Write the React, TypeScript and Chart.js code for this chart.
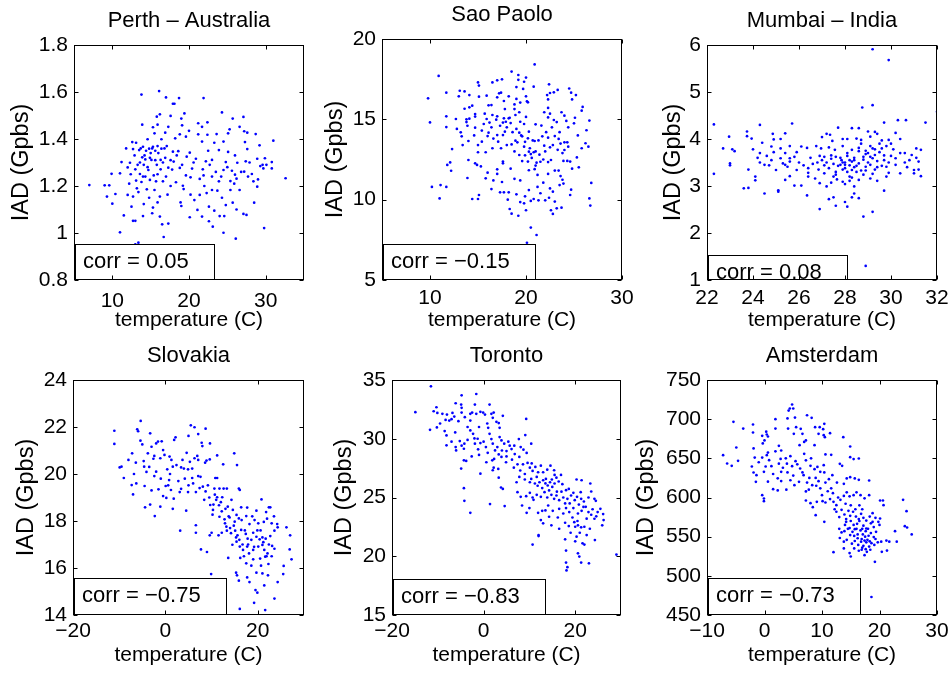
import React, { useEffect, useRef } from "react";
import { Chart, registerables } from "chart.js";

Chart.register(...registerables);

const FONT = "'Liberation Sans', Arial, Helvetica, sans-serif";

// ---------- data: [temperature (C), IAD (Gpbs)] ----------
const perthData: [number, number][] = [
  [16.1,1.604],[13.8,1.589],[17.0,1.577],[18.7,1.574],[17.9,1.55],[18.1,1.55],[21.9,1.574],
  [16.2,1.505],[24.3,1.513],[17.6,1.498],[19.4,1.509],[15.8,1.495],[25.7,1.487],[27.1,1.494],[19.0,1.487],
  [13.9,1.461],[21.2,1.467],[22.4,1.471],[25.3,1.441],[15.3,1.45],[17.3,1.452],[15.9,1.461],[19.1,1.458],[21.7,1.452],[26.6,1.452],[27.2,1.433],[28.7,1.421],[23.6,1.421],[25.1,1.424],[27.6,1.427],[22.4,1.418],[21.2,1.42],[15.5,1.424],[16.9,1.427],[18.8,1.42],[20.0,1.435],
  [31.0,1.393],[12.6,1.387],[13.1,1.384],[14.6,1.399],[16.4,1.399],[18.2,1.403],[19.6,1.41],[21.7,1.389],[23.3,1.384],[24.5,1.389],[27.3,1.387],[29.2,1.373],
  [12.7,1.357],[13.5,1.353],[14.0,1.367],[14.8,1.359],[15.3,1.367],[15.9,1.37],[16.4,1.359],[17.9,1.346],[18.6,1.348],[20.1,1.342],[22.5,1.35],[23.9,1.353],[25.1,1.345],[27.6,1.357],[26.0,1.33],
  [13.9,1.322],[14.3,1.313],[15.1,1.311],[16.3,1.311],[18.0,1.304],[19.7,1.325],[20.9,1.316],[22.2,1.305],[23.0,1.311],[24.8,1.302],[26.3,1.299],[27.4,1.305],[28.9,1.316],[29.9,1.318],[30.8,1.302],[11.2,1.302],[12.3,1.299],
  [12.0,1.279],[13.0,1.271],[14.7,1.268],[16.3,1.271],[17.3,1.278],[18.8,1.277],[20.4,1.274],[21.8,1.271],[24.5,1.268],[25.6,1.265],[27.2,1.261],[29.3,1.285],[29.7,1.275],[30.8,1.275],[11.0,1.254],[9.9,1.252],
  [13.6,1.251],[14.3,1.24],[15.4,1.245],[17.0,1.24],[19.6,1.245],[20.2,1.237],[21.9,1.245],[23.0,1.24],[26.0,1.248],[28.2,1.251],[29.0,1.228],[26.2,1.231],[27.7,1.24],
  [7.0,1.204],[9.0,1.203],[9.6,1.203],[13.1,1.223],[13.8,1.217],[14.9,1.226],[18.3,1.216],[19.2,1.201],[22.0,1.2],[23.9,1.22],[25.4,1.221],[32.6,1.233],[28.9,1.197],[25.4,1.183],
  [9.3,1.155],[10.4,1.166],[12.0,1.162],[13.4,1.174],[14.5,1.186],[15.5,1.183],[16.2,1.155],[17.2,1.163],[19.3,1.187],[20.2,1.163],[21.4,1.162],[23.0,1.183],[23.7,1.18],[26.6,1.183],[28.5,1.129],[12.7,1.155],
  [10.0,1.125],[12.5,1.112],[14.1,1.123],[15.3,1.108],[19.0,1.115],[21.1,1.098],[22.6,1.112],[23.3,1.095],[24.8,1.119],[25.7,1.129],
  [11.5,1.075],[14.0,1.072],[15.2,1.084],[16.2,1.07],[20.1,1.067],[21.7,1.07],[22.6,1.05],[24.0,1.072],[24.6,1.072],[27.1,1.081],[27.5,1.077],
  [12.7,1.052],[13.0,1.052],[16.5,1.037],[17.3,1.04],[23.1,1.027],[24.5,1.001],[29.8,1.021],[11.0,1.003],[16.7,0.983],[26.1,0.976],[13.0,0.952],[13.4,0.959],
  [14.2,1.33],[15.0,1.34],[15.6,1.35],[16.8,1.36],[13.6,1.30],[14.6,1.28],[15.8,1.29],[16.9,1.32],[14.0,1.24],[15.7,1.22],[17.6,1.31],
  [12.9,1.33],[13.3,1.29],[14.4,1.35],[14.9,1.32],[15.2,1.36],[15.6,1.31],[16.0,1.34],[16.6,1.30],[17.1,1.37],[13.7,1.36],[14.1,1.29],[15.9,1.25],[16.6,1.22],[17.8,1.27],[18.4,1.33],[19.1,1.29],[20.6,1.30],[21.4,1.23],[22.7,1.29],[23.5,1.26],[24.2,1.24],[25.0,1.28],[25.9,1.21],[26.8,1.26],[27.9,1.30],[28.4,1.22],[29.6,1.29],[30.1,1.29],[12.2,1.21],[13.2,1.19],[14.8,1.15],[15.9,1.13],[17.6,1.20],[18.9,1.13],[20.7,1.14],[22.3,1.17],[24.3,1.15],[26.2,1.10],[11.8,1.36],[12.4,1.25]
];

const saoPaoloData: [number, number][] = [
  [20.9,18.42],[10.9,17.7],[18.5,17.97],[19.2,17.76],[20.0,17.6],[9.8,16.31],[16.5,17.3],[17.0,17.43],[17.5,17.49],[15.0,17.3],[15.1,17.1],[19.2,17.46],[19.8,17.34],[22.4,17.18],[19.0,17.01],[19.7,16.89],[20.8,17.03],[24.5,16.92],[24.7,16.66],[23.3,16.83],[22.9,16.68],[22.2,16.51],[22.5,16.64],[25.2,16.51],[24.8,16.24],
  [11.7,16.66],[13.1,16.78],[13.6,16.74],[13.0,16.43],[14.1,16.51],[15.1,16.41],[15.9,16.47],[17.2,16.62],[17.4,16.66],[17.0,16.37],[18.2,16.43],[20.0,16.43],[20.1,16.12],[19.0,16.27],[17.7,16.14],[16.1,15.87],[16.4,15.89],[14.4,15.85],[14.1,15.75],[13.6,15.66],[18.8,15.93],[19.4,16.04],[20.2,16.06],[22.3,16.24],[22.3,15.71],[25.9,15.77],[25.8,15.54],
  [10.0,14.81],[11.7,15.19],[11.7,14.52],[12.7,15.02],[13.8,15.0],[13.8,14.83],[14.1,15.04],[14.7,15.33],[14.7,15.17],[15.7,15.35],[15.6,14.71],[15.9,15.02],[16.5,15.27],[17.0,15.19],[16.9,14.98],[16.4,14.5],[17.8,15.64],[17.7,15.06],[18.2,15.06],[17.9,14.85],[18.4,14.77],[18.8,15.64],[18.9,15.27],[19.3,15.44],[19.4,14.85],[20.0,15.15],[19.8,14.71],[21.0,14.69],[21.6,14.61],[21.9,15.44],[22.3,15.12],[22.5,15.35],[22.9,14.96],[23.2,14.83],[23.7,15.44],[24.0,15.23],[24.2,14.9],[25.1,15.1],[25.0,14.75],[26.6,14.92],[26.3,14.32],
  [13.2,14.19],[13.3,13.94],[13.4,13.4],[14.0,13.65],[14.7,14.48],[15.0,13.4],[15.0,12.95],[15.4,13.61],[16.0,13.96],[16.1,14.17],[15.8,12.95],[16.5,13.2],[17.1,13.61],[17.0,14.02],[17.6,14.02],[17.8,14.23],[18.0,13.4],[18.5,13.44],[18.9,13.67],[19.1,13.57],[19.3,14.17],[19.6,13.94],[19.8,13.3],[20.2,13.82],[20.3,14.23],[20.3,12.99],[20.7,13.69],[20.9,13.65],[21.3,13.69],[21.7,13.94],[21.9,13.36],[22.3,13.86],[22.5,13.26],[23.0,13.96],[23.4,13.78],[23.6,13.49],[24.0,13.57],[24.3,13.57],[24.0,13.09],[24.6,12.37],[24.8,11.93],[25.5,12.01],[26.2,13.51],[26.5,13.3],[25.8,13.2],[25.3,12.63],
  [11.8,12.16],[12.1,12.32],[12.2,11.8],[12.3,13.15],[14.0,12.47],[14.7,12.26],[14.9,12.16],[15.3,12.07],[16.0,11.68],[17.0,11.89],[17.0,11.6],[17.6,12.37],[17.6,12.26],[18.4,11.93],[19.3,12.78],[19.9,12.76],[20.2,12.37],[20.5,12.84],[20.8,12.95],[21.0,12.12],[20.3,11.83],[21.2,11.54],[21.5,12.36],[22.3,12.34],[22.3,11.6],[22.6,12.47],[23.0,11.81],[23.4,11.81],[23.6,11.47],[23.9,12.41],[24.3,12.41],
  [10.2,10.79],[11.1,10.91],[11.7,10.79],[11.0,10.08],[13.9,11.35],[14.4,10.04],[15.0,10.04],[15.1,10.29],[15.8,11.33],[16.4,10.66],[16.6,11.2],[17.3,10.46],[17.7,10.46],[18.2,10.46],[18.1,10.0],[19.0,10.33],[19.4,11.2],[19.9,10.21],[19.8,9.77],[19.4,9.85],[18.3,9.42],[18.5,9.13],[19.2,9.0],[20.0,9.34],[20.5,9.92],[20.8,10.04],[21.3,9.96],[21.2,10.79],[21.8,11.06],[22.0,9.96],[22.4,10.12],[22.8,10.5],[23.0,9.88],[23.2,9.46],[22.6,9.34],[22.8,9.11],[23.7,9.5],[23.5,10.91],[23.8,11.24],[24.7,10.62],[24.6,10.29],[26.6,10.08],[26.8,11.04],[26.7,9.63],[20.5,8.26],[21.1,7.8],[20.1,7.32],
  [17.3,14.6],[17.6,14.8],[18.0,14.5],[18.3,15.1],[18.6,14.2],[19.0,14.4],[19.5,14.0],[19.9,13.6],[20.4,13.2],[20.6,12.6],[21.0,13.0],[21.4,12.8],[21.8,12.5],[22.0,13.0],[22.8,13.4],[23.3,13.1],[23.8,12.9],[24.4,13.3],[21.1,12.3],[20.9,11.9],[19.6,12.4],[18.8,13.0],[17.4,13.2],[16.6,13.8],[16.2,14.8],[15.4,14.3],[14.6,14.0],[13.9,14.6],[12.8,14.4],[22.1,14.2],[22.7,14.5],[23.5,14.2],[24.4,14.5],[25.4,14.0],[23.9,11.0],[22.5,10.7],[21.5,10.4],[20.3,10.6],[18.8,11.3],[17.5,11.1]
];

const mumbaiData: [number, number][] = [
  [29.2,5.91],[29.9,5.68],[28.75,4.67],[29.2,4.72],[22.3,4.31],[24.3,4.3],[25.7,4.33],[29.7,4.35],[30.3,4.4],[30.65,4.4],[31.5,4.35],[32.0,4.58],
  [22.96,4.05],[23.74,4.16],[23.74,4.06],[23.94,4.01],[24.86,4.11],[25.4,4.12],[24.9,3.99],[25.2,4.0],[27.7,4.24],[28.3,4.23],[28.6,4.23],[29.0,4.16],[29.1,4.05],[29.3,4.15],[29.4,4.11],[29.6,3.97],[29.9,3.98],[30.2,4.13],[30.4,4.0],[27.2,4.11],[27.35,4.09],[27.0,4.04],[27.45,3.96],[27.9,4.0],[28.1,4.0],[28.5,4.01],[28.7,3.98],
  [22.7,3.8],[23.1,3.78],[23.2,3.74],[24.0,3.78],[24.4,3.92],[24.8,3.84],[25.2,3.8],[25.6,3.85],[25.4,3.7],[26.1,3.84],[26.35,3.81],[26.75,3.85],[26.96,3.8],[27.3,3.82],[27.56,3.77],[27.9,3.85],[28.3,3.77],[28.6,3.81],[28.9,3.75],[29.1,3.85],[29.3,3.78],[29.6,3.8],[29.8,3.85],[30.1,3.78],[30.4,3.7],[30.6,3.7],[30.9,3.66],[31.1,3.8],[31.3,3.77],
  [24.3,3.7],[24.6,3.64],[24.9,3.72],[25.2,3.59],[25.6,3.59],[25.8,3.62],[25.9,3.72],[26.9,3.64],[27.1,3.62],[27.4,3.58],[27.6,3.62],[27.85,3.55],[28.1,3.64],[28.4,3.55],[28.6,3.74],[28.8,3.62],[29.1,3.62],[29.2,3.59],[29.4,3.53],[29.7,3.55],[30.0,3.64],[30.2,3.59],[30.8,3.55],[31.2,3.52],[30.6,3.5],
  [23.0,3.48],[23.0,3.44],[23.8,3.35],[24.3,3.5],[24.5,3.45],[24.7,3.44],[25.0,3.34],[25.3,3.48],[25.5,3.41],[25.6,3.52],[25.9,3.34],[26.2,3.44],[26.4,3.38],[26.6,3.47],[26.85,3.35],[27.1,3.44],[27.3,3.38],[27.5,3.47],[27.7,3.43],[27.9,3.5],[28.0,3.38],[28.2,3.44],[28.3,3.34],[28.5,3.43],[28.7,3.33],[28.9,3.41],[29.1,3.45],[29.4,3.4],[29.6,3.43],[29.8,3.41],[29.9,3.28],[30.4,3.27],[31.0,3.34],[31.2,3.35],[31.3,3.21],[31.0,3.27],
  [22.3,3.26],[23.6,2.95],[23.8,2.96],[24.1,3.2],[24.1,3.12],[24.5,2.84],[25.1,2.91],[25.1,2.88],[25.4,3.13],[25.6,3.21],[25.8,3.01],[26.1,3.01],[26.4,3.2],[26.4,3.28],[26.7,3.16],[26.9,3.06],[27.1,3.27],[27.2,2.99],[27.4,3.07],[27.6,3.24],[27.65,3.14],[27.9,3.09],[28.0,3.04],[28.2,3.11],[28.3,3.18],[28.4,2.99],[28.6,3.13],[28.8,3.24],[28.9,3.33],[29.1,3.16],[29.2,3.26],[29.4,3.11],[29.8,3.2],[26.35,2.8],[26.9,2.51],[27.3,2.72],[27.5,2.76],[27.6,2.58],[28.0,2.66],[28.1,2.56],[28.3,2.76],[28.4,2.84],[28.6,2.74],[28.8,2.35],[29.2,2.45],[29.7,2.9],[28.9,1.3],
  [28.0,3.5],[28.2,3.55],[27.8,3.45],[28.4,3.6],[29.0,3.7],[28.1,3.3],
  [27.0,3.55],[27.2,3.5],[27.4,3.65],[27.6,3.3],[27.8,3.6],[28.0,3.45],[28.1,3.7],[28.3,3.52],[28.5,3.3],[28.6,3.48],[28.8,3.56],[28.9,3.68],[29.0,3.5],[29.2,3.8],[29.3,3.66],[29.5,3.72],[29.7,3.65],[29.9,3.5],[30.0,3.9],[30.2,3.45],[29.5,3.9],[28.7,3.9],[28.2,3.2],[27.5,3.2],[26.8,3.5],[26.5,3.6],[26.0,3.5],[25.4,3.45],[24.8,3.55],[24.2,3.6],[28.4,3.4],[27.9,3.35],[29.3,3.35],[30.7,3.4],[31.1,3.6]
];

const slovakiaData: [number, number][] = [
  [-5.35,22.26],[-11.05,21.84],[-11.05,21.28],[-6.1,21.9],[-5.9,21.82],[-3.3,21.73],[5.5,22.07],[6.3,21.99],[8.7,21.93],[7.1,21.7],[-5.4,21.42],[-5.0,21.26],[-3.0,21.16],[-2.0,21.3],[-1.6,21.38],[-0.8,21.39],[2.2,21.56],[1.9,21.45],[5.0,21.62],[7.85,21.33],[8.0,21.19],[9.65,21.3],[-9.9,20.28],[-9.5,20.31],[-9.0,19.83],[-7.2,20.88],[-6.4,20.48],[-4.7,20.55],[-4.6,20.31],[-4.1,20.09],[-3.8,20.88],[-2.6,20.65],[-2.4,20.77],[-1.1,20.67],[-0.5,21.02],[-0.2,20.81],[0.9,20.74],[1.3,20.6],[1.6,20.31],[2.4,20.38],[3.4,20.28],[4.0,20.23],[4.9,20.2],[5.8,20.23],[5.3,20.52],[6.3,20.67],[6.9,20.77],[7.1,20.6],[8.6,20.48],[8.9,20.57],[9.6,20.62],[11.2,20.79],[12.5,20.41],[14.9,20.88],[15.5,20.38],
  [-7.3,19.53],[-7.0,19.13],[-6.3,19.6],[-4.5,19.49],[-4.4,18.58],[-3.3,18.7],[-2.4,19.91],[-1.5,19.35],[0.06,19.49],[0.6,19.52],[0.8,19.74],[1.2,19.32],[-1.1,18.61],[-0.5,19.06],[0.2,18.98],[1.8,18.95],[1.6,18.52],[3.1,19.23],[3.4,19.37],[4.2,19.8],[5.0,19.52],[4.9,19.23],[5.8,19.83],[6.6,19.23],[7.1,19.91],[7.6,19.88],[8.1,19.46],[8.7,19.26],[9.2,19.52],[8.4,18.9],[10.8,19.83],[11.2,19.83],[10.6,19.38],[11.7,19.38],[12.6,19.38],[13.3,19.38],[10.7,19.12],[11.2,19.01],[12.3,19.01],[14.3,18.9],[15.9,19.38],[16.1,19.32],[-2.3,18.21],[4.5,18.44],
  [9.7,18.68],[10.3,18.47],[10.2,18.27],[11.6,18.67],[12.2,18.41],[13.0,18.52],[13.5,18.61],[14.6,18.47],[15.4,18.26],[16.4,18.58],[17.7,18.57],[19.7,18.44],[20.8,18.92],[22.4,18.58],[22.7,18.58],[21.8,18.38],[11.7,18.18],[12.8,18.07],[13.9,18.15],[15.0,17.97],[15.9,18.11],[16.5,18.04],[17.5,18.21],[18.2,17.87],[19.3,18.04],[20.1,17.9],[21.3,17.96],[23.0,17.9],[24.2,17.87],[26.2,17.73],[3.2,17.59],[6.6,17.82],[6.6,17.5],[9.6,17.39],[10.0,17.5],[11.5,17.39],[12.2,17.5],[13.2,17.76],[13.3,17.59],[14.2,17.48],[15.1,17.59],[15.6,17.39],[16.4,17.62],[17.4,17.45],[17.8,17.25],[19.0,17.5],[19.7,17.33],[20.4,17.22],[21.0,17.3],[21.7,17.25],[22.7,17.36],[23.6,17.59],[24.3,17.73],[27.0,17.39],
  [7.7,16.79],[9.0,16.68],[13.6,16.43],[14.5,16.99],[15.4,17.12],[16.1,16.91],[16.8,16.77],[17.7,16.91],[18.1,16.62],[19.0,16.77],[20.1,16.91],[21.0,16.98],[21.4,16.77],[22.1,16.62],[23.1,16.94],[23.6,16.82],[16.2,16.43],[17.5,16.2],[19.0,16.37],[20.5,16.4],[21.6,16.48],[22.3,16.17],[26.9,16.79],[27.3,16.37],[25.6,16.09],[15.3,15.8],[15.5,15.69],[17.7,15.6],[19.7,15.8],[21.0,15.77],[22.2,15.69],[25.5,15.74],[24.3,15.4],[9.9,15.74],[15.9,15.46],[18.2,15.4],[19.5,15.06],[19.9,14.95],[21.4,15.26],[23.6,14.7],[19.2,14.52],[16.1,14.26],[21.6,14.21],
  [-3.5,20.3],[-2.0,20.1],[-1.0,19.8],[0.4,20.2],[1.0,20.0],[2.8,19.7],[3.7,20.6],[4.6,20.9],[6.0,19.6],[7.4,19.4],[9.5,19.0],[10.4,18.7],[11.0,18.9],[12.0,18.8],[12.9,17.9],[13.7,18.2],[14.0,17.7],[14.8,17.8],[15.3,17.3],[16.0,17.2],[16.7,17.0],[17.2,17.6],[17.9,17.0],[18.6,17.2],[19.2,16.9],[19.9,17.6],[20.6,17.6],[21.2,17.1],[21.9,16.5],[22.4,17.0],[23.0,16.5],[20.7,16.1],[18.6,16.1],[17.0,16.5],[22.0,18.1],[23.5,18.2],[18.8,18.2],[-6.8,20.0],[-8.0,20.6],[-3.0,19.3]
];

const torontoData: [number, number][] = [
  [-11.5,34.46],[-14.9,32.26],[-11.7,30.76],[-10.9,32.34],[-10.3,32.68],[-10.1,32.2],[-10.2,30.96],[-9.0,32.12],[-8.3,31.6],[-8.0,32.06],[-7.5,31.55],[-7.0,31.67],[-6.4,31.89],[-6.1,33.02],[-4.8,33.7],[-4.9,32.91],[-4.8,32.63],[-4.8,32.23],[-4.1,31.84],[-2.9,32.12],[-2.5,32.23],[-2.9,31.55],[-1.9,32.91],[-1.6,33.81],[-1.6,32.12],[-0.7,32.29],[-0.1,32.23],[0.3,32.06],[1.3,32.91],[1.7,32.12],[2.2,32.23],[2.0,31.78],[2.8,31.44],[3.3,31.33],[3.5,30.93],[4.2,31.95],[9.3,31.69],
  [-8.5,30.65],[-8.1,30.28],[-8.1,29.44],[-7.0,29.75],[-6.2,30.54],[-6.1,29.29],[-6.0,29.01],[-5.2,29.8],[-4.8,29.41],[-4.3,29.15],[-4.2,29.58],[-2.9,30.71],[-2.3,30.42],[-2.0,30.03],[-1.9,29.58],[-1.3,30.0],[-0.7,29.63],[0.0,29.75],[0.5,29.29],[1.0,30.93],[1.3,30.42],[1.7,29.97],[2.0,29.58],[2.5,29.01],[3.0,29.29],[3.5,30.14],[3.9,29.86],[4.5,29.58],[5.0,28.95],[5.4,29.75],[5.7,29.41],[6.1,29.12],[6.7,29.41],[7.7,29.97],[8.1,29.29],[8.7,29.07],[9.4,28.79],[9.1,30.31],[10.4,29.58],
  [-4.3,28.16],[-4.9,27.46],[-3.8,28.11],[-2.6,28.5],[-1.0,28.62],[-0.7,27.03],[0.6,28.0],[1.9,28.16],[2.3,28.28],[3.3,28.67],[3.9,28.45],[4.9,28.0],[6.2,28.22],[6.6,27.54],[7.4,27.82],[7.8,28.45],[8.6,27.82],[9.6,27.94],[10.1,27.54],[10.7,27.26],[11.3,27.6],[11.9,27.15],[12.5,27.71],[13.0,27.15],[13.9,27.37],[14.6,27.71],[15.4,27.32],[15.5,26.92],[2.0,27.32],[2.2,27.54],[3.2,27.43],[3.3,26.69],
  [7.2,26.3],[7.8,26.75],[9.0,26.53],[10.1,26.3],[10.4,26.58],[11.2,26.19],[11.6,26.75],[12.2,26.3],[13.0,26.47],[13.6,26.58],[14.0,26.02],[14.5,26.3],[14.9,26.53],[15.5,26.19],[15.9,26.69],[16.4,26.36],[16.9,26.92],[17.2,26.13],[18.0,25.62],[18.6,25.73],[19.6,25.4],[20.3,26.53],[21.4,26.47],[21.2,25.45],[23.3,26.19],[23.5,25.51],[24.2,24.89],[24.5,24.72],[3.8,25.85],[4.2,25.73],[-4.3,25.79],[-2.9,23.7],[-4.2,24.72],[1.4,24.44],[4.6,24.27],
  [7.4,25.45],[8.1,25.06],[9.3,25.11],[10.1,25.4],[10.7,25.0],[11.6,25.23],[12.5,25.06],[13.3,25.45],[13.9,25.0],[14.8,25.23],[15.4,24.89],[15.9,25.17],[16.5,24.77],[17.4,25.0],[18.3,24.89],[19.1,25.17],[19.9,24.77],[20.4,25.06],[21.3,24.89],[21.9,24.66],[22.9,25.0],[8.4,24.32],[9.4,23.7],[10.0,24.1],[11.9,23.7],[12.8,23.87],[14.1,24.32],[14.3,23.36],[15.1,23.87],[16.5,24.04],[17.4,23.64],[18.0,24.1],[18.7,23.76],[19.4,23.3],[20.6,23.64],[21.4,23.87],[22.3,24.21],[22.9,23.76],[23.5,23.53],[24.2,23.19],[24.9,23.76],[25.5,24.04],[26.1,23.59],[26.2,23.08],[25.9,22.63],[12.5,23.08],[13.0,22.8],[14.8,22.63],[16.5,22.34],[17.8,22.85],[18.6,22.57],[20.0,22.51],[20.6,22.63],[21.3,22.46],[22.0,22.51],[23.2,22.34],[24.3,21.38],[12.0,21.81],[12.0,21.72],[10.7,20.99],[17.8,21.44],[18.0,20.48],[20.0,21.27],[20.3,21.67],[21.6,21.1],[22.0,20.99],[20.6,20.25],[20.9,19.97],[21.3,19.46],[23.0,19.4],[18.0,19.46],[18.3,19.07],[18.1,18.79],[29.0,20.14],
  [-9.5,31.3],[-6.8,32.2],[-5.5,31.5],[-3.5,31.0],[-1.0,31.0],[0.8,31.3],[-3.5,29.9],[-1.2,29.1],[0.9,28.8],[4.0,29.0],[5.0,28.5],[6.8,28.7],[8.0,27.3],[9.0,27.0],[10.5,27.9],[11.8,26.0],[12.8,25.8],[13.5,26.2],[14.3,25.6],[15.0,25.9],[16.0,25.5],[17.0,25.5],[17.8,24.5],[18.8,24.5],[19.6,24.1],[20.8,24.4],[21.8,24.2],[22.5,23.2],[23.8,24.0],[24.6,23.4],[19.0,22.0],[19.8,22.9],[21.0,22.0],[22.5,21.8],[16.2,23.3],[13.5,23.9],[10.9,24.8],[20.5,23.0]
];

const amsterdamData: [number, number][] = [
  [4.8,718.7],[4.4,713.6],[5.0,713.6],[4.2,711],[7.4,705],[8.2,701.7],[4.0,700.9],[5.3,702],[1.9,700],[-5.4,696.6],[-3.7,688],[-2.0,693.2],[0.3,684],[0.4,680.4],[-0.4,678.7],[1.9,688],[4.1,688],[5.5,689.8],[6.3,687.7],[8.8,689.8],[9.6,689.8],[10.4,694],[10.2,687.2],[11.4,682.1],[5.1,681.3],[6.6,681.3],[9.4,681.3],[10.3,679.6],[10.5,677],[13.7,677],[-2.0,683],[0.6,677.9],[0.0,672.8],[-0.3,669],
  [-7.2,654],[-6.5,643.4],[-5.7,640.4],[-4.9,663.8],[-4.6,646.8],[-1.9,662.6],[-2.2,639.6],[-1.9,631.9],[-1.4,628.5],[-1.5,620],[-1.7,651],[-0.4,651],[-0.1,632.8],[0.2,639.6],[0.6,657.4],[0.4,654],[0.8,647.7],[-0.4,603],[-0.1,595.3],[-0.1,598.7],[1.9,659],[2.5,666],[2.9,660],[2.8,649.2],[2.5,643.2],[2.9,632.8],[3.7,650],[3.9,643.2],[2.3,624.5],[2.9,621],[4.0,632],[4.5,652.7],[4.8,640],[5.4,646.4],[5.7,642.3],[6.2,637],[6.6,632],[6.8,628.5],[7.2,647.5],[6.9,655.7],[6.1,666.8],[6.9,671],[8.1,650],[8.0,640.4],[8.7,636.2],[9.2,639],[9.7,632.8],[10.4,632],[10.3,641.3],[8.7,666.8],[10.6,655],[11.6,654.5],[11.8,628.5],[13.1,643],[13.5,640.4],[14.9,665.1],[15.5,649],[16.4,649.8],[14.9,651.5],[7.2,672.8],[2.3,609],[1.5,610.6],[0.6,620.2],
  [3.8,610],[5.2,615.7],[7.4,619.1],[7.2,607.7],[7.7,610],[8.3,615.7],[8.9,625],[9.4,620.9],[9.7,611.7],[10.6,619.1],[11.2,623.4],[11.6,611.7],[11.9,605.5],[12.6,619.1],[13.8,617.4],[14.3,624.3],[14.9,626],[15.7,624.3],[16.4,622.6],[18.2,621.7],[7.2,596.2],[8.0,592.8],[8.4,587.7],[9.1,594.5],[10.1,595.3],[10.6,593.6],[11.4,598],[12.0,594.5],[12.5,590.2],[13.2,597],[13.8,602],[14.3,606.6],[14.8,601.5],[15.5,603],[16.0,606.6],[16.7,603],[17.4,599],[18.2,603],
  [8.9,577.4],[10.4,569],[12.5,581.8],[13.0,575],[13.4,584.3],[13.9,578.3],[14.2,572.4],[14.6,583],[14.9,576.6],[15.4,581.8],[15.9,575.7],[16.4,572.4],[16.8,579.1],[17.2,574],[17.7,570.6],[18.3,575.7],[18.8,569],[19.3,574],[19.8,569],[20.1,573.2],[20.7,590.2],[20.6,596.2],[20.1,596.2],[24.1,597],[24.7,582.6],
  [13.0,560],[13.4,555.4],[13.9,557],[14.8,561],[15.3,556.2],[15.7,559.6],[16.2,552.9],[16.7,558],[17.1,552.9],[17.6,557],[18.1,551.2],[18.5,554.6],[19.0,549.5],[19.4,556.2],[20.0,565],[13.1,548.3],[13.8,543.6],[14.3,546],[15.2,541],[15.7,544.5],[16.3,539.4],[16.8,543.6],[17.2,538.3],[17.7,542.8],[18.2,537.4],[18.6,541.7],[19.1,539.4],[19.7,542.8],[20.3,543.6],[21.2,545],[21.7,543.6],[22.7,557],[23.0,543.6],[24.4,563.4],[24.8,561.7],[25.6,552.9],
  [12.0,530.2],[13.8,535],[14.8,529],[15.0,524.7],[15.6,535],[16.9,533.3],[17.4,526.4],[17.8,530.6],[18.4,533.3],[19.2,517.9],[20.4,530.6],[21.3,532.3],[18.6,473],
  [14.2,569],[16.1,566.4],[17.2,564],[17.7,560.4],[19.0,562.2],
  [14.0,565],[14.5,560],[15.0,570],[15.5,565],[16.0,560],[16.5,570],[17.0,560],[17.5,550],[18.0,560],[18.5,567],[16.2,548],[16.9,547],[17.4,545],[17.9,546],[15.6,551],[14.9,552],[16.4,532],[17.0,536],[17.6,534],[18.3,544],[19.3,547],[15.8,585],[16.5,590],[17.0,585],[15.0,590],[14.1,592],[12.8,600],[11.0,608],[9.0,615],[6.0,620],[5.0,628],[3.2,638],[1.2,640],[-1.0,645],[1.5,630],[4.5,622],[7.8,625],[10.0,603],[12.2,585],[18.8,580]
];

// ---------- axes: tick values ----------
const perthXTicks = [10, 20, 30];
const perthYTicks = [0.8, 1, 1.2, 1.4, 1.6, 1.8];
const saoXTicks = [10, 20, 30];
const saoYTicks = [5, 10, 15, 20];
const mumbaiXTicks = [22, 24, 26, 28, 30, 32];
const mumbaiYTicks = [1, 2, 3, 4, 5, 6];
const slovakiaXTicks = [-20, 0, 20];
const slovakiaYTicks = [14, 16, 18, 20, 22, 24];
const torontoXTicks = [-20, 0, 20];
const torontoYTicks = [15, 20, 25, 30, 35];
const amsterdamXTicks = [-10, 0, 10, 20, 30];
const amsterdamYTicks = [450, 500, 550, 600, 650, 700, 750];

const titles = ["Perth \u2013 Australia", "Sao Paolo", "Mumbai \u2013 India", "Slovakia", "Toronto", "Amsterdam"];
const corrValues = [0.05, -0.15, 0.08, -0.75, -0.83, -0.73];

type PanelCfg = {
  title: string;
  data: [number, number][];
  xMin: number; xMax: number; xTicks: number[];
  yMin: number; yMax: number; yTicks: number[];
  corr: number;
  left: number; top: number; right: number; bottom: number;
  yAxisW: number; xTickPad: number; legendUp: number; legendH: number;
};

const panels: PanelCfg[] = [
  { title: titles[0], data: perthData, xMin: 5, xMax: 35, xTicks: perthXTicks, yMin: 0.8, yMax: 1.8, yTicks: perthYTicks, corr: corrValues[0],
    left: 74, top: 45, right: 304, bottom: 280, yAxisW: 67, xTickPad: 9, legendUp: 36, legendH: 36 },
  { title: titles[1], data: saoPaoloData, xMin: 5, xMax: 30, xTicks: saoXTicks, yMin: 5, yMax: 20, yTicks: saoYTicks, corr: corrValues[1],
    left: 382, top: 39, right: 622, bottom: 280, yAxisW: 61, xTickPad: 6, legendUp: 36, legendH: 36 },
  { title: titles[2], data: mumbaiData, xMin: 22, xMax: 32, xTicks: mumbaiXTicks, yMin: 1, yMax: 6, yTicks: mumbaiYTicks, corr: corrValues[2],
    left: 707, top: 45, right: 937, bottom: 280, yAxisW: 48, xTickPad: 6, legendUp: 25, legendH: 36 },
  { title: titles[3], data: slovakiaData, xMin: -20, xMax: 30, xTicks: slovakiaXTicks, yMin: 14, yMax: 24, yTicks: slovakiaYTicks, corr: corrValues[3],
    left: 73, top: 380, right: 304, bottom: 615, yAxisW: 61, xTickPad: 4, legendUp: 37, legendH: 37 },
  { title: titles[4], data: torontoData, xMin: -20, xMax: 30, xTicks: torontoXTicks, yMin: 15, yMax: 35, yTicks: torontoYTicks, corr: corrValues[4],
    left: 392, top: 380, right: 621, bottom: 615, yAxisW: 62, xTickPad: 4, legendUp: 36, legendH: 36 },
  { title: titles[5], data: amsterdamData, xMin: -10, xMax: 30, xTicks: amsterdamXTicks, yMin: 450, yMax: 750, yTicks: amsterdamYTicks, corr: corrValues[5],
    left: 707, top: 380, right: 937, bottom: 615, yAxisW: 75, xTickPad: 4, legendUp: 37, legendH: 37 },
];

const TITLE_H = 38;
const XAXIS_H = 53;
const RIGHT_PAD = 22;
const TICK_LEN = 4;

const fmt = (v: number) => String(v).replace("-", "\u2212");

function Panel({ cfg }: { cfg: PanelCfg }) {
  const ref = useRef<HTMLCanvasElement>(null);
  const W = cfg.yAxisW + (cfg.right - cfg.left) + RIGHT_PAD;
  const H = TITLE_H + (cfg.bottom - cfg.top) + XAXIS_H;

  useEffect(() => {
    const canvas = ref.current;
    if (!canvas) return;

    const framePlugin = {
      id: "frame",
      afterDatasetsDraw(chart: any) {
        const { ctx, chartArea: a, scales } = chart;
        const L = Math.round(a.left) + 0.5;
        const R = Math.round(a.right) - 0.5;
        const T = Math.round(a.top) + 0.5;
        const B = Math.round(a.bottom) - 0.5;
        ctx.save();
        ctx.beginPath();
        ctx.rect(a.left, a.top, a.right - a.left, a.bottom - a.top);
        ctx.clip();
        const text = "corr = " + fmt(cfg.corr);
        ctx.font = `22px ${FONT}`;
        const tw = ctx.measureText(text).width;
        const bx = Math.round(a.left) + 1;
        const by = Math.round(a.bottom) - cfg.legendUp;
        const bw = Math.round(tw + 33);
        ctx.fillStyle = "#ffffff";
        ctx.fillRect(bx, by, bw, cfg.legendH);
        ctx.strokeStyle = "#000000";
        ctx.lineWidth = 1;
        ctx.strokeRect(bx + 0.5, by + 0.5, bw, cfg.legendH);
        ctx.fillStyle = "#000000";
        ctx.textBaseline = "middle";
        ctx.textAlign = "left";
        ctx.fillText(text, bx + 8, by + 18);
        ctx.restore();

        ctx.save();
        ctx.strokeStyle = "#000000";
        ctx.lineWidth = 1;
        ctx.beginPath();
        for (const v of cfg.xTicks) {
          const px = Math.round(scales.x.getPixelForValue(v)) + 0.5;
          ctx.moveTo(px, B); ctx.lineTo(px, B - TICK_LEN);
          ctx.moveTo(px, T); ctx.lineTo(px, T + TICK_LEN);
        }
        for (const v of cfg.yTicks) {
          const py = Math.round(scales.y.getPixelForValue(v)) + 0.5;
          ctx.moveTo(L, py); ctx.lineTo(L + TICK_LEN, py);
          ctx.moveTo(R, py); ctx.lineTo(R - TICK_LEN, py);
        }
        ctx.stroke();
        ctx.strokeRect(L, T, R - L, B - T);
        ctx.restore();
      },
    };

    const chart = new Chart(canvas, {
      type: "scatter",
      data: {
        datasets: [
          {
            data: cfg.data.map(([x, y]) => ({ x, y })),
            backgroundColor: "#0000ff",
            borderWidth: 0,
            pointRadius: 1.35,
            pointHoverRadius: 1.35,
          },
        ],
      },
      options: {
        animation: false,
        responsive: false,
        events: [],
        layout: { padding: { left: 0, right: RIGHT_PAD, top: 0, bottom: 0 } },
        plugins: {
          legend: { display: false },
          tooltip: { enabled: false },
          title: {
            display: true,
            text: cfg.title,
            fullSize: false,
            color: "#000000",
            font: { family: FONT, size: 22, weight: "normal" },
            padding: { top: 0.8, bottom: 10.8 },
          },
        },
        scales: {
          x: {
            type: "linear",
            position: "bottom",
            min: cfg.xMin,
            max: cfg.xMax,
            grid: { display: false, drawTicks: false },
            border: { display: false },
            ticks: {
              color: "#000000",
              font: { family: FONT, size: 21 },
              padding: cfg.xTickPad,
              maxRotation: 0,
              minRotation: 0,
              autoSkip: false,
              callback: (v: any) => fmt(Number(v)),
            },
            afterBuildTicks: (s: any) => {
              s.ticks = cfg.xTicks.map((v) => ({ value: v }));
            },
            afterFit: (s: any) => {
              s.height = XAXIS_H;
            },
            title: {
              display: true,
              text: "temperature (C)",
              color: "#000000",
              font: { family: FONT, size: 21 },
              padding: 0,
            },
          },
          y: {
            type: "linear",
            position: "left",
            min: cfg.yMin,
            max: cfg.yMax,
            grid: { display: false, drawTicks: false },
            border: { display: false },
            ticks: {
              color: "#000000",
              font: { family: FONT, size: 21 },
              padding: 6,
              autoSkip: false,
              callback: (v: any) => fmt(Number(v)),
            },
            afterBuildTicks: (s: any) => {
              s.ticks = cfg.yTicks.map((v) => ({ value: v }));
            },
            afterFit: (s: any) => {
              s.width = cfg.yAxisW;
            },
            title: {
              display: true,
              text: "IAD (Gpbs)",
              color: "#000000",
              font: { family: FONT, size: 23.5 },
              padding: 0,
            },
          },
        },
      },
      plugins: [framePlugin],
    } as any);

    return () => chart.destroy();
  }, [cfg]);

  return (
    <canvas
      ref={ref}
      width={W}
      height={H}
      style={{
        position: "absolute",
        left: cfg.left - cfg.yAxisW,
        top: cfg.top - TITLE_H,
        width: W,
        height: H,
      }}
    />
  );
}

export default function App() {
  return (
    <div
      style={{
        position: "fixed",
        left: 0,
        top: 0,
        width: 952,
        height: 673,
        overflow: "hidden",
        background: "#ffffff",
      }}
    >
      {panels.map((p, i) => (
        <Panel key={i} cfg={p} />
      ))}
    </div>
  );
}
